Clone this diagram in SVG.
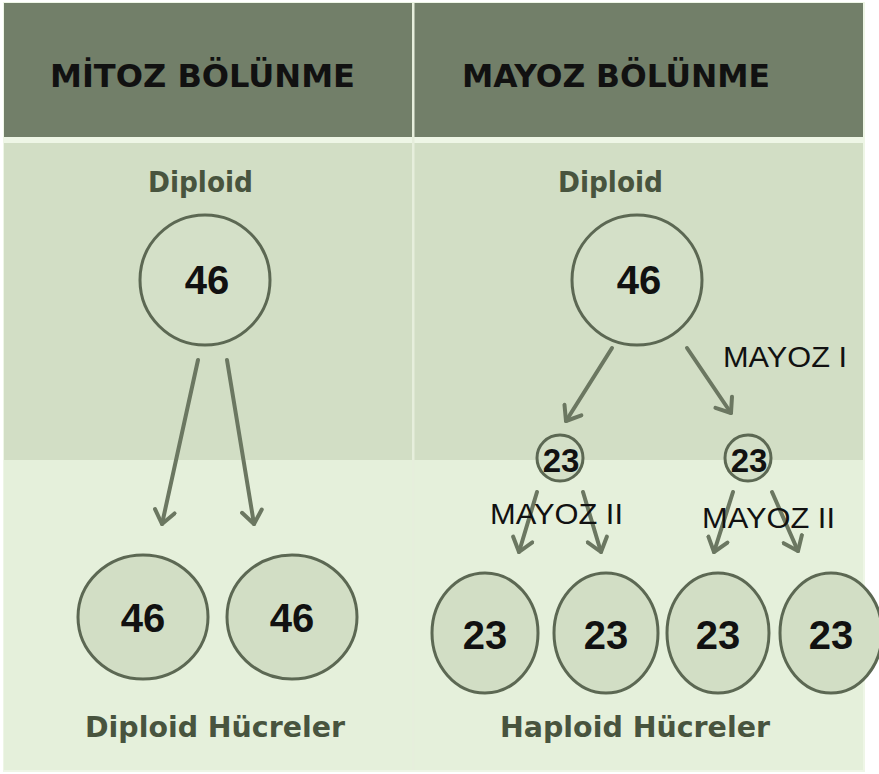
<svg xmlns="http://www.w3.org/2000/svg" width="879" height="774" viewBox="0 0 879 774">
  <style>
    .head { font-family: "DejaVu Sans Condensed", "DejaVu Sans", sans-serif; font-size: 32px; font-weight: bold; fill: #111; }
    .label { font-family: "DejaVu Sans Condensed", "DejaVu Sans", sans-serif; font-size: 29px; font-weight: bold; fill: #48543e; }
    .num { font-family: "Liberation Sans", Arial, sans-serif; font-size: 40px; font-weight: bold; fill: #111; text-anchor: middle; }
    .num-s { font-family: "Liberation Sans", Arial, sans-serif; font-size: 33px; font-weight: bold; fill: #111; text-anchor: middle; }
    .phase { font-family: "Liberation Sans", Arial, sans-serif; font-size: 30px; fill: #111; }
    .cell { stroke: #5c6853; stroke-width: 3; }
    .cell-top { fill: #d4e0c8; }
    .cell-low { fill: #d2dec5; }
    .link { stroke: #6b7761; stroke-width: 4; stroke-linecap: round; fill: none; marker-end: url(#vhead); }
  </style>
  <defs>
    <marker id="vhead" viewBox="-16 -12 20 24" markerWidth="20" markerHeight="24" refX="0" refY="0" orient="auto" markerUnits="userSpaceOnUse">
      <path d="M-13,-10 L0,0 L-13,10" fill="none" stroke="#6b7761" stroke-width="4" stroke-linecap="round" stroke-linejoin="round"/>
    </marker>
  </defs>

  <!-- background panels -->
  <rect x="0" y="0" width="879" height="774" fill="#ffffff"/>
  <rect x="3" y="2" width="862" height="770" fill="#eef6e6"/>
  <rect x="4" y="3" width="859" height="134" fill="#727f69"/>
  <rect x="4" y="143" width="859" height="317" fill="#d2dec5"/>
  <rect x="4" y="460" width="859" height="310" fill="#e5f0db"/>
  <rect x="412" y="3" width="2.5" height="767" fill="#e6eedc"/>

  <!-- column headings -->
  <text class="head" x="50" y="87" textLength="305" lengthAdjust="spacingAndGlyphs">MİTOZ BÖLÜNME</text>
  <text class="head" x="462" y="87" textLength="308" lengthAdjust="spacingAndGlyphs">MAYOZ BÖLÜNME</text>

  <!-- mitosis -->
  <text class="label" x="148" y="192" textLength="105" lengthAdjust="spacingAndGlyphs">Diploid</text>
  <g id="mitoz-parent">
    <circle class="cell cell-top" cx="205" cy="280" r="65"/>
    <text class="num" x="207" y="294">46</text>
  </g>
  <g id="mitoz-daughter-1">
    <ellipse class="cell cell-low" cx="143" cy="617" rx="65" ry="62"/>
    <text class="num" x="143" y="632">46</text>
  </g>
  <g id="mitoz-daughter-2">
    <ellipse class="cell cell-low" cx="292" cy="617" rx="65" ry="62"/>
    <text class="num" x="292" y="632">46</text>
  </g>
  <text class="label" x="85" y="737" textLength="260" lengthAdjust="spacingAndGlyphs">Diploid Hücreler</text>

  <!-- meiosis -->
  <text class="label" x="558" y="192" textLength="105" lengthAdjust="spacingAndGlyphs">Diploid</text>
  <g id="mayoz-parent">
    <circle class="cell cell-top" cx="637" cy="280" r="65"/>
    <text class="num" x="639" y="294">46</text>
  </g>
  <g id="mayoz-i-left">
    <circle class="cell cell-top" cx="560" cy="458" r="23"/>
    <text class="num-s" x="561" y="472">23</text>
  </g>
  <g id="mayoz-i-right">
    <circle class="cell cell-top" cx="748" cy="458" r="23"/>
    <text class="num-s" x="749" y="472">23</text>
  </g>
  <g id="haploid-1">
    <ellipse class="cell cell-low" cx="485" cy="633" rx="53" ry="60"/>
    <text class="num" x="485" y="649">23</text>
  </g>
  <g id="haploid-2">
    <ellipse class="cell cell-low" cx="606" cy="633" rx="52" ry="60"/>
    <text class="num" x="606" y="649">23</text>
  </g>
  <g id="haploid-3">
    <ellipse class="cell cell-low" cx="718" cy="633" rx="51" ry="60"/>
    <text class="num" x="718" y="649">23</text>
  </g>
  <g id="haploid-4">
    <ellipse class="cell cell-low" cx="831" cy="633" rx="51" ry="60"/>
    <text class="num" x="831" y="649">23</text>
  </g>
  <text class="label" x="500" y="737" textLength="270" lengthAdjust="spacingAndGlyphs">Haploid Hücreler</text>

  <!-- connectors -->
  <g id="connectors">
    <line class="link" x1="198" y1="360" x2="162" y2="524"/>
    <line class="link" x1="227" y1="360" x2="254" y2="524"/>
    <line class="link" x1="612" y1="348" x2="566" y2="421"/>
    <line class="link" x1="687" y1="348" x2="731" y2="413"/>
    <line class="link" x1="537" y1="492" x2="519" y2="552"/>
    <line class="link" x1="583" y1="492" x2="601" y2="552"/>
    <line class="link" x1="733" y1="492" x2="714" y2="552"/>
    <line class="link" x1="772" y1="492" x2="798" y2="551"/>
  </g>

  <!-- phase labels -->
  <text class="phase" x="723" y="367" textLength="124" lengthAdjust="spacingAndGlyphs">MAYOZ I</text>
  <text class="phase" x="490" y="524" textLength="133" lengthAdjust="spacingAndGlyphs">MAYOZ II</text>
  <text class="phase" x="702" y="528" textLength="133" lengthAdjust="spacingAndGlyphs">MAYOZ II</text>
</svg>
